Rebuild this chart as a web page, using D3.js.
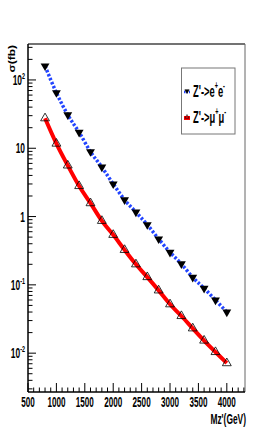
<!DOCTYPE html>
<html><head><meta charset="utf-8">
<script src="https://cdn.jsdelivr.net/npm/d3@7"></script>
<style>
html,body{margin:0;padding:0;background:#fff;}
svg{display:block;}
text{font-family:"Liberation Sans Narrow","Liberation Sans",Arial,sans-serif;}
</style></head>
<body>
<svg id="c" width="273" height="436"></svg>
<script>
const mass = [800,1000,1200,1400,1600,1800,2000,2200,2400,2600,2800,3000,3200,3400,3600,3800,4000];
const sigmaEE = [160,65,30.8,17.1,8.9,5.3,3.0,1.76,1.16,0.76,0.47,0.30,0.203,0.129,0.089,0.060,0.040];
const sigmaMM = [27.5,11.7,5.6,2.8,1.57,0.865,0.54,0.325,0.20,0.13,0.083,0.052,0.035,0.0231,0.0153,0.0104,0.00714];
const xTicks = [500,1000,1500,2000,2500,3000,3500,4000];
const yTicks = [0.01,0.1,1,10,100];
const yTickLabels = [["10","-2"],["10","-1"],["1",""],["10",""],["10","2"]];
const seriesNames = [["Z'->e","+","e","-"],["Z'->\u03bc","+","\u03bc","-"]];

const svg = d3.select("#c");
const L=28,R=245,T=44,B=392;
const x = d3.scaleLinear().domain([500,4320]).range([L,R]);
const y = d3.scaleLog().domain([0.0027,336]).range([B,T]);

// frame
svg.append("line").attr("x1",L).attr("x2",R).attr("y1",T).attr("y2",T).attr("stroke","#444").attr("stroke-width",1.5);
svg.append("line").attr("x1",R).attr("x2",R).attr("y1",T).attr("y2",B).attr("stroke","#666").attr("stroke-width",1);

// x axis
const minorX = d3.range(500,4301,100);
svg.append("g").selectAll("line").data(minorX).join("line")
  .attr("x1",d=>x(d)).attr("x2",d=>x(d)).attr("y1",B).attr("y2",d=>d%500===0?B-9:B-4.5)
  .attr("stroke","#000").attr("stroke-width",1);
svg.append("line").attr("x1",L).attr("x2",R).attr("y1",B).attr("y2",B).attr("stroke","#000").attr("stroke-width",1.5);
svg.append("g").selectAll("text").data(xTicks).join("text")
  .attr("transform",d=>`translate(${x(d)},${B+15}) scale(0.58,1)`)
  .attr("text-anchor","middle").attr("font-size",14).attr("font-weight","bold").text(d=>d);
svg.append("text").attr("transform",`translate(${R+1},${B+32}) scale(0.6,1)`)
  .attr("text-anchor","end").attr("font-size",14).attr("font-weight","bold").text("Mz'(GeV)");

// y axis
const minorY=[];
for(let e=-3;e<=2;e++){for(let k=1;k<=9;k++){const v=k*Math.pow(10,e);if(v>=0.0027&&v<=336)minorY.push({v,major:k===1});}}
svg.append("g").selectAll("line").data(minorY).join("line")
  .attr("x1",L).attr("x2",d=>d.major?L+8:L+4.5).attr("y1",d=>y(d.v)).attr("y2",d=>y(d.v))
  .attr("stroke","#000").attr("stroke-width",1);
svg.append("line").attr("x1",L).attr("x2",L).attr("y1",T).attr("y2",B).attr("stroke","#000").attr("stroke-width",1.5);
const yl = svg.append("g").selectAll("text").data(yTicks).join("text")
  .attr("transform",(d,i)=>`translate(${L-3},${y(d)+5}) scale(0.6,1)`)
  .attr("text-anchor","end").attr("font-size",14).attr("font-weight","bold");
yl.each(function(d,i){
  const t=d3.select(this); const lab=yTickLabels[i];
  t.append("tspan").text(lab[0]);
  if(lab[1]) t.append("tspan").attr("dy",-6).attr("font-size",9).text(lab[1]);
});
svg.append("text").attr("transform",`translate(15,45) rotate(-90) scale(1,0.75)`)
  .attr("text-anchor","end").attr("font-size",12).attr("font-weight","bold").attr("font-family","DejaVu Sans, sans-serif")
  .text("\u03c3(fb)");

// lines
const line = d3.line().x(d=>x(d[0])).y(d=>y(d[1])).curve(d3.curveMonotoneX);
const ee = mass.map((m,i)=>[m,sigmaEE[i]]);
const mm = mass.map((m,i)=>[m,sigmaMM[i]]);
svg.append("path").attr("d",line(mm)).attr("fill","none").attr("stroke","#ff0000").attr("stroke-width",4);
svg.append("path").attr("d",line(ee)).attr("fill","none").attr("stroke","#2244ff").attr("stroke-width",3.5).attr("stroke-dasharray","2.5,1.8");

const tri = d3.symbol().type(d3.symbolTriangle).size(34);
svg.append("g").selectAll("path").data(ee).join("path")
  .attr("d",tri).attr("transform",d=>`translate(${x(d[0])},${y(d[1])}) rotate(180)`).attr("fill","#000");
svg.append("g").selectAll("path").data(mm).join("path")
  .attr("d",tri).attr("transform",d=>`translate(${x(d[0])},${y(d[1])})`).attr("fill","none").attr("stroke","#000").attr("stroke-width",0.8);

// legend
svg.append("rect").attr("x",181.5).attr("y",68).attr("width",53.5).attr("height",66).attr("fill","#fff").attr("stroke","#777").attr("stroke-width",1);
const legY=[97,123];
seriesNames.forEach((n,i)=>{
  const g=svg.append("g");
  const col=i===0?"#2244ff":"#ff0000";
  g.append("line").attr("x1",184).attr("x2",190).attr("y1",legY[i]-5).attr("y2",legY[i]-5).attr("stroke",col).attr("stroke-width",i===0?2.5:4).attr("stroke-dasharray",i===0?"1.5,1":null);
  g.append("path").attr("d",d3.symbol().type(d3.symbolTriangle).size(8)).attr("transform",`translate(187,${legY[i]-6})${i===0?" rotate(180)":""}`)
    .attr("fill",i===0?"#000":"none").attr("stroke","#000").attr("stroke-width",0.6);
  const t=g.append("text").attr("transform",`translate(193,${legY[i]}) scale(0.55,1)`).attr("font-size",17).attr("font-weight","bold");
  t.append("tspan").text(n[0]);
  t.append("tspan").attr("dy",-8).attr("font-size",10).text(n[1]);
  t.append("tspan").attr("dy",8).text(n[2]);
  t.append("tspan").attr("dy",-8).attr("font-size",10).text(n[3]);
});
</script>
</body></html>
